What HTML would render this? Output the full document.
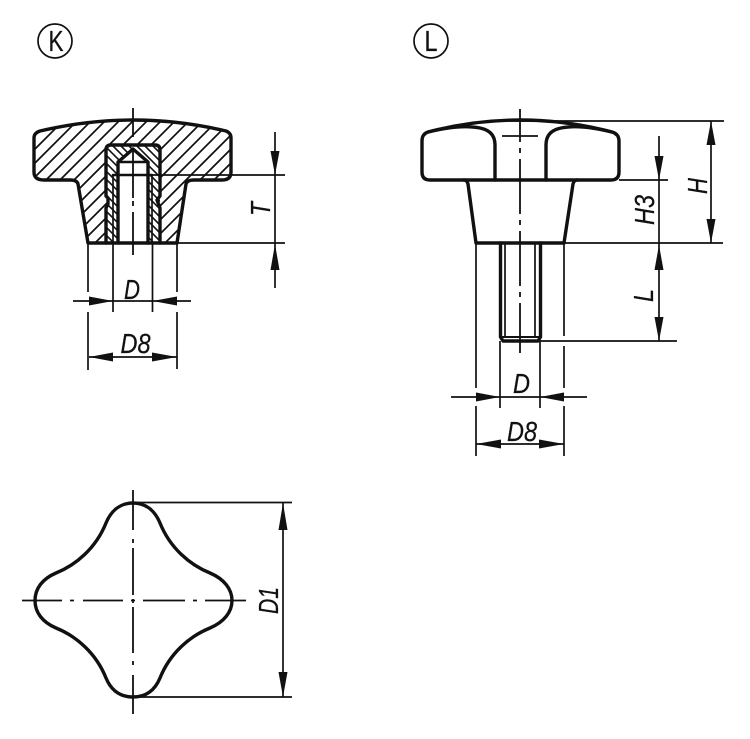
<!DOCTYPE html>
<html><head><meta charset="utf-8"><style>
html,body{margin:0;padding:0;background:#fff}
svg{display:block}
text{font-family:"Liberation Sans",sans-serif;fill:#111;stroke:#111;stroke-width:.25}
.d{font-style:italic;font-size:28px}
.o{fill:none;stroke:#111;stroke-width:3.4;stroke-linejoin:round;stroke-linecap:round}
.t{fill:none;stroke:#111;stroke-width:1.7}
.c{fill:none;stroke:#111;stroke-width:1.8}
.a{fill:#111;stroke:none}
</style></head><body>
<svg width="750" height="739" viewBox="0 0 750 739" xmlns="http://www.w3.org/2000/svg">
<defs>
<clipPath id="k1"><path d="M40 131Q133 109 226 131Q231 133 231 138V172Q231 180 222 180H194Q187 180 186 184L177 243H88L78 184Q77 180 70 180H44Q34 180 34 172V138Q34 133 40 131Z"/></clipPath>
<clipPath id="k2"><path d="M107 146H160V243H148V162L133 148L118 162V243H107Z"/></clipPath>
</defs>

<!-- circled letters -->
<circle cx="55" cy="41" r="17" fill="none" stroke="#111" stroke-width="1.7"/>
<text x="48.500" y="51" font-size="29" textLength="15" lengthAdjust="spacingAndGlyphs">K</text>
<circle cx="431" cy="41" r="17" fill="none" stroke="#111" stroke-width="1.7"/>
<text x="424.500" y="51" font-size="29" textLength="13" lengthAdjust="spacingAndGlyphs">L</text>

<!-- K knob -->
<g clip-path="url(#k1)">
<path fill="none" stroke="#111" stroke-width="1.7" d="M70 100L-90 260M84 100L-76 260M98 100L-62 260M112 100L-48 260M126 100L-34 260M140 100L-20 260M154 100L-6 260M168 100L8 260M182 100L22 260M196 100L36 260M210 100L50 260M224 100L64 260M238 100L78 260M252 100L92 260M266 100L106 260M280 100L120 260M294 100L134 260M308 100L148 260M322 100L162 260M336 100L176 260"/>
</g>
<path fill="#fff" d="M107 146H160V243H107Z"/>
<g clip-path="url(#k2)">
<path fill="none" stroke="#111" stroke-width="1.6" d="M-37 100L123 260M-29 100L131 260M-21 100L139 260M-13 100L147 260M-5 100L155 260M3 100L163 260M11 100L171 260M19 100L179 260M27 100L187 260M35 100L195 260M43 100L203 260M51 100L211 260M59 100L219 260M67 100L227 260M75 100L235 260M83 100L243 260M91 100L251 260M99 100L259 260M107 100L267 260M115 100L275 260"/>
</g>
<path class="o" d="M40 131Q133 109 226 131Q231 133 231 138V172Q231 180 222 180H194Q187 180 186 184L177 243H88L78 184Q77 180 70 180H44Q34 180 34 172V138Q34 133 40 131Z"/>
<path class="o" d="M106 243V208L108 204V198L106 196V150Q106 145 111 145H155Q160 145 160 150V196L157 200L160 208V243"/>
<path class="o" d="M118 243V162L133 149L148 162V243"/>
<path class="o" style="stroke-width:2.6" d="M118 162H148M113 175H152"/>
<line class="t" x1="113" y1="175" x2="113" y2="243"/>
<line class="t" x1="152" y1="175" x2="152" y2="243"/>
<path class="c" d="M133 108V137M133 150V198M133 201V206M133 212V255"/>
<!-- K dims -->
<line class="t" x1="152" y1="175" x2="285" y2="175"/>
<line class="t" x1="177" y1="243" x2="285" y2="243"/>
<line class="t" x1="275" y1="132" x2="275" y2="288"/>
<path class="a" d="M275 175L270.500 151H279.500Z"/>
<path class="a" d="M275 244L270.500 270H279.500Z"/>
<text class="d" transform="translate(270 216) rotate(-90)" textLength="14" lengthAdjust="spacingAndGlyphs">T</text>
<line class="t" x1="88" y1="243" x2="88" y2="292"/>
<line class="t" x1="88" y1="312" x2="88" y2="370"/>
<line class="t" x1="177" y1="243" x2="177" y2="292"/>
<line class="t" x1="177" y1="312" x2="177" y2="369"/>
<line class="t" x1="113" y1="243" x2="113" y2="312"/>
<line class="t" x1="152.500" y1="243" x2="152.500" y2="312"/>
<line class="t" x1="73" y1="301" x2="191" y2="301"/>
<path class="a" d="M113 301L89 296.500V305.500Z"/>
<path class="a" d="M152.500 301L177 296.500V305.500Z"/>
<text class="d" x="124" y="299" textLength="16" lengthAdjust="spacingAndGlyphs">D</text>
<line class="t" x1="89" y1="357" x2="177" y2="357"/>
<path class="a" d="M89 357L113 352.500V361.500Z"/>
<path class="a" d="M177 357L152 352.500V361.500Z"/>
<text class="d" x="120.500" y="353" textLength="30" lengthAdjust="spacingAndGlyphs">D8</text>

<!-- L knob -->
<path class="o" d="M428 132Q520 108 612 132Q619 134 619 141V172Q619 180 611 180H430Q422 180 422 172V141Q422 134 428 132Z"/>
<path class="o" d="M428 132Q460 124 480 128Q495 131 495 145V180"/>
<path class="o" d="M612 132Q580 124 561 128Q546 131 546 145V180"/>
<path class="o" d="M464 180Q467 180 468 184L476 243H564L573 184Q574 180 577 180"/>
<line class="t" x1="502" y1="136" x2="538" y2="136"/>
<path class="c" d="M520 109V142M520 148V153M520 159V214M520 220V225M520 231V286M520 292V297M520 303V353"/>
<path class="o" d="M500.500 243V337L503 341H538L540.500 337V243"/>
<line class="t" x1="505" y1="243" x2="505" y2="337"/>
<line class="t" x1="535" y1="243" x2="535" y2="337"/>
<line x1="502" y1="337" x2="539" y2="337" stroke="#111" stroke-width="2"/>
<!-- L dims -->
<line class="t" x1="490" y1="121" x2="724" y2="121"/>
<line class="t" x1="619" y1="180" x2="668" y2="180"/>
<line class="t" x1="564" y1="243" x2="723" y2="243"/>
<line class="t" x1="540" y1="341" x2="677" y2="341"/>
<line class="t" x1="659" y1="136" x2="659" y2="341"/>
<path class="a" d="M659 180L654.500 156H663.500Z"/>
<path class="a" d="M659 245L654.500 270H663.500Z"/>
<path class="a" d="M659 341L654.500 317H663.500Z"/>
<line class="t" x1="711" y1="121" x2="711" y2="243"/>
<path class="a" d="M711 121L706.500 145H715.500Z"/>
<path class="a" d="M711 243L706.500 219H715.500Z"/>
<text class="d" transform="translate(707 194) rotate(-90)" textLength="16" lengthAdjust="spacingAndGlyphs">H</text>
<text class="d" transform="translate(654 225) rotate(-90)" textLength="30" lengthAdjust="spacingAndGlyphs">H3</text>
<text class="d" transform="translate(653 302) rotate(-90)" textLength="13" lengthAdjust="spacingAndGlyphs">L</text>
<line class="t" x1="476" y1="243" x2="476" y2="388"/>
<line class="t" x1="476" y1="406" x2="476" y2="456"/>
<line class="t" x1="564" y1="243" x2="564" y2="336"/>
<line class="t" x1="564" y1="346" x2="564" y2="388"/>
<line class="t" x1="564" y1="406" x2="564" y2="456"/>
<line class="t" x1="500" y1="341" x2="500" y2="408"/>
<line class="t" x1="540" y1="341" x2="540" y2="408"/>
<line class="t" x1="451" y1="397" x2="587" y2="397"/>
<path class="a" d="M500 397L476 392.500V401.500Z"/>
<path class="a" d="M540 397L564 392.500V401.500Z"/>
<text class="d" x="513" y="393" textLength="17" lengthAdjust="spacingAndGlyphs">D</text>
<line class="t" x1="476" y1="444" x2="564" y2="444"/>
<path class="a" d="M476 444L501 439.500V448.500Z"/>
<path class="a" d="M564 444L539 439.500V448.500Z"/>
<text class="d" x="507" y="441" textLength="30" lengthAdjust="spacingAndGlyphs">D8</text>

<!-- Top view -->
<path class="o" d="M133 503C146 503 155 511 160 523C170 548 190 565 210 573C224 579 232 589 232 600.500C232 612 224 622 210 628C190 636 170 653 160 678C155 690 146 697 133 697C120 697 111 690 106 678C96 653 76 636 56 628C42 622 35 612 35 600.500C35 589 42 579 56 573C76 565 96 548 106 523C111 511 120 503 133 503Z"/>
<path class="c" d="M133 490V530M133 539V543M133 548V595M133 599V603M133 607V653M133 661V665M133 675V714"/>
<path class="c" d="M22 600.500H62M70 600.500H74M83 600.500H123M131 600.500H135M143 600.500H185M193 600.500H197M205 600.500H246"/>
<line class="t" x1="133" y1="502.500" x2="292" y2="502.500"/>
<line class="t" x1="133" y1="697" x2="292" y2="697"/>
<line class="t" x1="283" y1="503" x2="283" y2="697"/>
<path class="a" d="M283 503L278.500 530H287.500Z"/>
<path class="a" d="M283 697L278.500 672H287.500Z"/>
<text class="d" transform="translate(278 614) rotate(-90)" textLength="27" lengthAdjust="spacingAndGlyphs">D1</text>
</svg>
</body></html>
